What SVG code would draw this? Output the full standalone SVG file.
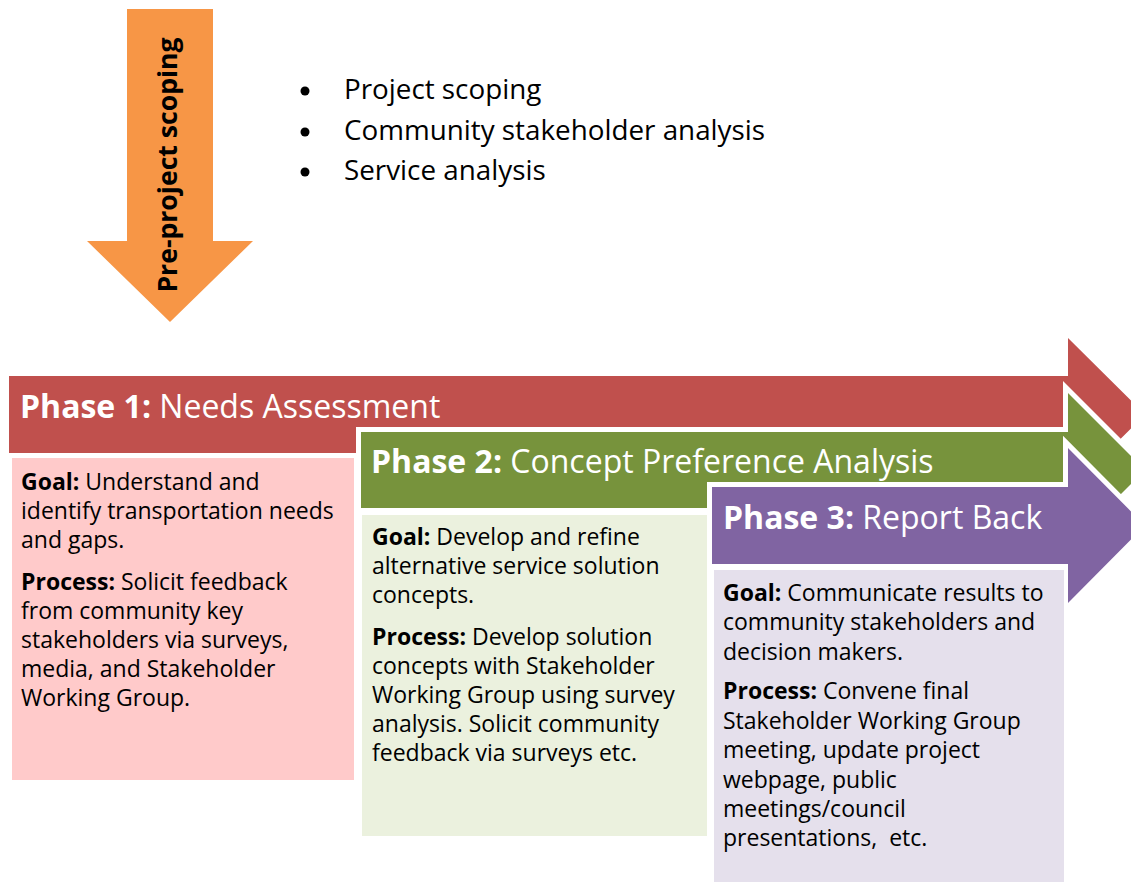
<svg xmlns="http://www.w3.org/2000/svg" width="1131" height="882" viewBox="0 0 1131 882">
<style>
.hd{font-family:"Open Sans","Liberation Sans",sans-serif;font-size:32px;fill:#fff}
.bd{font-family:"Open Sans","Liberation Sans",sans-serif;font-size:23px;fill:#000;white-space:pre}
.bl{font-family:"Open Sans","Liberation Sans",sans-serif;font-size:27.8px;fill:#000}
.b{font-weight:bold}
.arr{stroke:#fff;stroke-width:10;stroke-linejoin:miter;paint-order:stroke}
</style>
<rect width="1131" height="882" fill="#fff"/>
<g id="pre-project">
<polygon points="127,9 213,9 213,241 253,241 170,322 87,241 127,241" fill="#F79646"/>
<text x="177" y="165" transform="rotate(-90 177 165)" text-anchor="middle" font-family="Open Sans, Liberation Sans, sans-serif" font-size="26.6" font-weight="bold" fill="#000">Pre-project scoping</text>
</g>
<g id="bullets">
<circle cx="305" cy="91" r="4.5" fill="#000"/>
<circle cx="305" cy="132" r="4.5" fill="#000"/>
<circle cx="305" cy="172" r="4.5" fill="#000"/>
<text class="bl" x="344" y="99">Project scoping</text>
<text class="bl" x="344" y="140">Community stakeholder analysis</text>
<text class="bl" x="344" y="180">Service analysis</text>
</g>
<g id="phase1">
<polygon points="9,376 1068,376 1068,338 1145,414.5 1068,491 1068,453 9,453" fill="#C0504D"/>
<text class="hd" x="20" y="418"><tspan class="b">Phase 1:</tspan> Needs Assessment</text>
<rect x="12" y="458" width="342" height="322" fill="#FFCACA"/>
<text class="bd" x="21" y="490"><tspan class="b">Goal:</tspan> Understand and</text>
<text class="bd" x="21" y="519">identify transportation needs</text>
<text class="bd" x="21" y="548">and gaps.</text>
<text class="bd" x="21" y="590"><tspan class="b">Process:</tspan> Solicit feedback</text>
<text class="bd" x="21" y="619">from community key</text>
<text class="bd" x="21" y="648">stakeholders via surveys,</text>
<text class="bd" x="21" y="677">media, and Stakeholder</text>
<text class="bd" x="21" y="706">Working Group.</text>
</g>
<g id="phase2">
<polygon class="arr" points="361,432 1068,432 1068,393 1145,470 1068,547 1068,508 361,508" fill="#77933C"/>
<text class="hd" x="371" y="473"><tspan class="b">Phase 2:</tspan> Concept Preference Analysis</text>
<rect x="362" y="515" width="345" height="321" fill="#EBF1DE"/>
<text class="bd" x="372" y="545"><tspan class="b">Goal:</tspan> Develop and refine</text>
<text class="bd" x="372" y="574">alternative service solution</text>
<text class="bd" x="372" y="603">concepts.</text>
<text class="bd" x="372" y="645"><tspan class="b">Process:</tspan> Develop solution</text>
<text class="bd" x="372" y="674">concepts with Stakeholder</text>
<text class="bd" x="372" y="703">Working Group using survey</text>
<text class="bd" x="372" y="732">analysis. Solicit community</text>
<text class="bd" x="372" y="761">feedback via surveys etc.</text>
</g>
<g id="phase3">
<polygon class="arr" points="712,487 1068,487 1068,448 1145,525.5 1068,603 1068,564 712,564" fill="#8064A2"/>
<text class="hd" x="723" y="529"><tspan class="b">Phase 3:</tspan> Report Back</text>
<rect x="714" y="570" width="350" height="312" fill="#E5E0EC"/>
<text class="bd" x="723" y="601"><tspan class="b">Goal:</tspan> Communicate results to</text>
<text class="bd" x="723" y="630">community stakeholders and</text>
<text class="bd" x="723" y="660">decision makers.</text>
<text class="bd" x="723" y="699"><tspan class="b">Process:</tspan> Convene final</text>
<text class="bd" x="723" y="729">Stakeholder Working Group</text>
<text class="bd" x="723" y="758">meeting, update project</text>
<text class="bd" x="723" y="788">webpage, public</text>
<text class="bd" x="723" y="817">meetings/council</text>
<text class="bd" x="723" y="846">presentations,  etc.</text>
</g>
<g id="connectors"/>
</svg>
